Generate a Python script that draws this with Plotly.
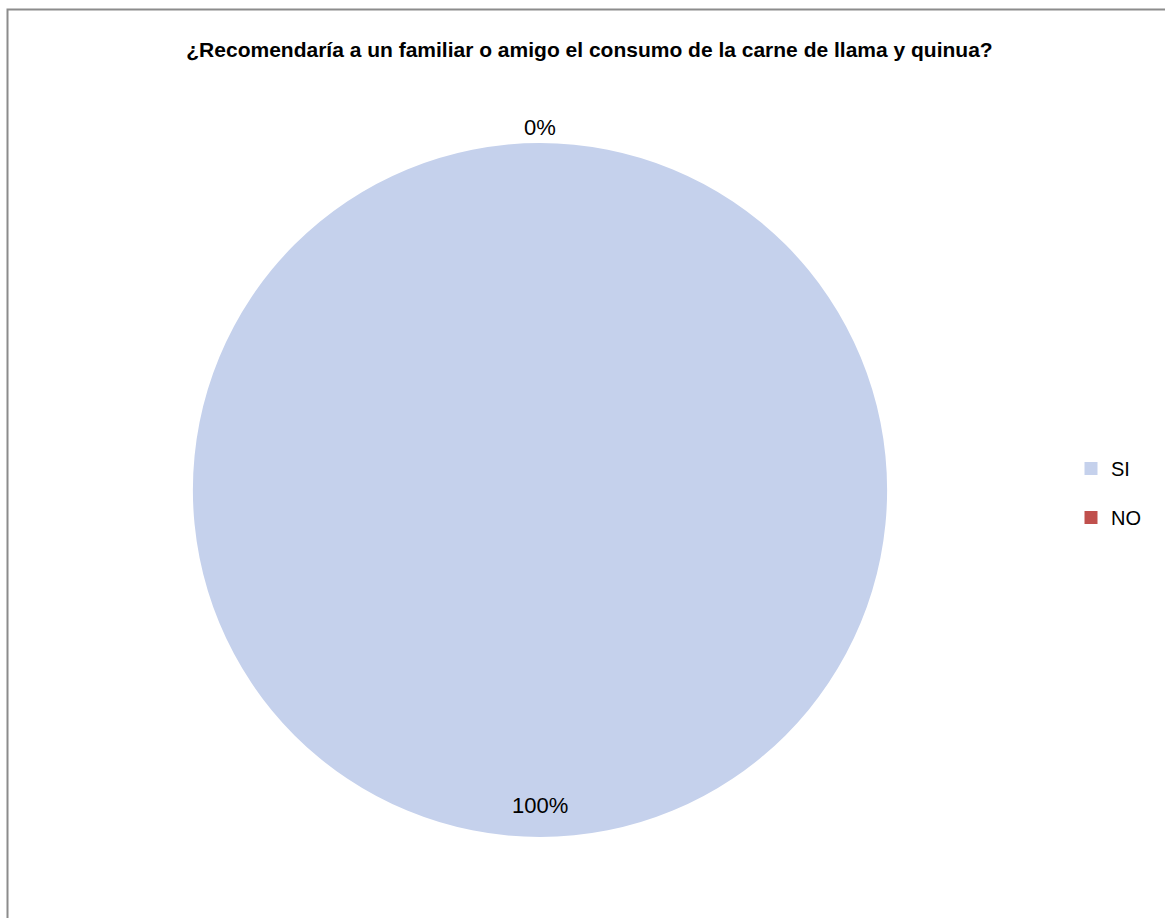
import math
import plotly.graph_objects as go

title_text = "¿Recomendaría a un familiar o amigo el consumo de la carne de llama y quinua?"
categories = ["SI", "NO"]
values = [100, 0]
colors = ["#c5d1ec", "#c0504d"]

W, H = 1165, 918
cx, cy, r = 540, 490, 347  # pie centre / radius in px (layout)

fig = go.Figure()
fig.add_trace(go.Pie(
    labels=categories, values=values, sort=False, direction="clockwise",
    rotation=0, textinfo="none", hoverinfo="label+percent",
    marker=dict(colors=colors, line=dict(width=0)),
    domain=dict(x=[(cx - r) / W, (cx + r) / W], y=[1 - (cy + r) / H, 1 - (cy - r) / H]),
    showlegend=False,
))

# percentage labels positioned from the data (slice mid-angles)
total = sum(values)
cum = 0
annotations = []
for cat, v in zip(categories, values):
    frac = v / total
    mid = cum + frac / 2
    cum += frac
    ang = 2 * math.pi * mid
    rf = 0.91 if frac > 0.5 else 1.045
    px = cx + rf * r * math.sin(ang)
    py = cy - rf * r * math.cos(ang)
    annotations.append(dict(
        x=px / W, y=1 - py / H, xref="paper", yref="paper",
        text=f"{round(frac * 100)}%", showarrow=False,
        font=dict(family="Liberation Sans", size=22, color="#000000"),
        xanchor="center", yanchor="middle",
    ))

# legend via dummy markers
for i, (cat, c) in enumerate(zip(categories, colors)):
    fig.add_trace(go.Scatter(
        x=[None], y=[None], mode="markers", name=cat, legendgroup=cat,
        marker=dict(symbol="square", size=13, color=c),
    ))

fig.update_layout(
    width=W, height=H,
    margin=dict(l=0, r=0, t=0, b=0),
    paper_bgcolor="white", plot_bgcolor="white",
    xaxis=dict(visible=False), yaxis=dict(visible=False),
    title=dict(text=f"<b>{title_text}</b>", x=0.506, xanchor="center",
               y=1 - 50 / H, yanchor="middle",
               font=dict(family="Liberation Sans", size=21, color="#000000")),
    legend=dict(x=1071 / W, y=1 - 449 / H, xanchor="left", yanchor="top",
                font=dict(family="Liberation Sans", size=20, color="#000000"),
                tracegroupgap=20, traceorder="grouped", itemwidth=30,
                bgcolor="rgba(0,0,0,0)"),
    annotations=annotations,
    shapes=[dict(type="rect", xref="paper", yref="paper",
                 x0=7.5 / W, x1=1.01, y0=-0.01, y1=1 - 9.5 / H,
                 line=dict(color="#8c8c8c", width=2), fillcolor="rgba(0,0,0,0)", layer="below")],
)

fig.write_html("out.html", config={"displayModeBar": False},
               post_script="document.body.style.margin='0';")
